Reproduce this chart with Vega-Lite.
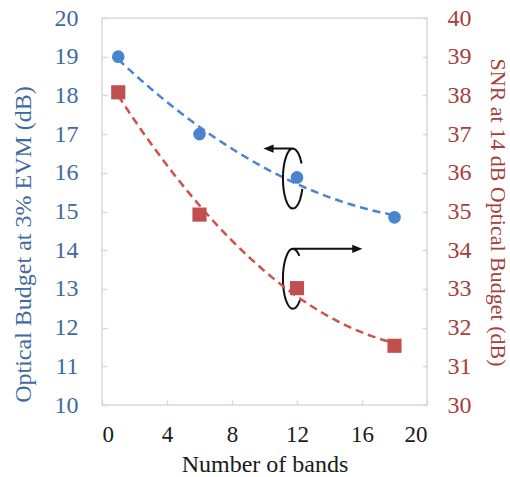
{
  "$schema": "https://vega.github.io/schema/vega-lite/v6.json",
  "width": 325,
  "height": 387,
  "autosize": {"type": "none"},
  "padding": {"left": 102, "top": 18, "right": 83, "bottom": 72},
  "background": "white",
  "config": {
    "font": "Liberation Serif",
    "view": {"stroke": "#d9d9d9", "strokeWidth": 1.5},
    "axis": {"grid": false, "domain": false, "tickColor": "#d9d9d9", "tickWidth": 1.5, "tickSize": -5, "labelFont": "Liberation Serif", "titleFont": "Liberation Serif", "titleFontWeight": "normal"}
  },
  "datasets": {
    "main": [
      {"bands": 1, "budget": 19.0, "snr": 38.08},
      {"bands": 6, "budget": 17.0, "snr": 34.92},
      {"bands": 12, "budget": 15.88, "snr": 33.02},
      {"bands": 18, "budget": 14.85, "snr": 31.53}
    ],
    "ann": [
      {"bands": 11.75, "budget": 15.85, "kind": "a1"},
      {"bands": 11.75, "budget": 13.26, "kind": "a2"}
    ]
  },
  "data": {"name": "main"},
  "encoding": {
    "x": {
      "field": "bands", "type": "quantitative",
      "scale": {"domain": [0, 20], "nice": false},
      "axis": {"values": [0, 4, 8, 12, 16, 20], "labelFontSize": 23, "labelColor": "#1a1a1a", "labelPadding": 23, "title": "Number of bands", "titleFontSize": 24, "titleColor": "#1a1a1a", "titleY": 59, "titleBaseline": "middle"}
    }
  },
  "layer": [
    {
      "encoding": {
        "y": {
          "field": "budget", "type": "quantitative",
          "scale": {"domain": [10, 20], "nice": false, "zero": false},
          "axis": {"orient": "left", "values": [10, 11, 12, 13, 14, 15, 16, 17, 18, 19, 20], "labelFontSize": 24, "labelColor": "#3F6A9E", "labelPadding": 29, "title": "Optical Budget at 3% EVM (dB)", "titleFontSize": 24, "titleColor": "#3F6A9E", "titleX": -79, "titleY": 226, "titleAngle": -90, "titleBaseline": "middle", "titleAlign": "center"}
        }
      },
      "layer": [
        {
          "transform": [{"regression": "budget", "on": "bands", "method": "poly", "order": 2, "extent": [1, 18]}],
          "mark": {"type": "line", "color": "#4A84CF", "strokeWidth": 2.5, "strokeDash": [8, 5]}
        },
        {
          "mark": {"type": "point", "shape": "circle", "filled": true, "size": 160, "color": "#4A84CF", "opacity": 1}
        },
        {
          "data": {"name": "ann"},
          "mark": {"type": "point", "filled": false, "size": 3600, "stroke": "#111111", "strokeWidth": 2, "opacity": 1},
          "encoding": {
            "shape": {
              "field": "kind", "type": "nominal", "legend": null,
              "scale": {
                "domain": ["a1", "a2"],
                "range": [
                  "M -0.9 -1 L 0 -1 M -0.9 -1 L -0.68 -1.09 L -0.68 -0.91 Z M 0.288 -0.5 L 0.236 -0.707 L 0.167 -0.866 L 0.086 -0.966 L 0 -1 C -0.184 -1 -0.333 -0.552 -0.333 0 C -0.333 0.552 -0.184 1 0 1 L 0.086 0.966 L 0.167 0.866 L 0.236 0.707 L 0.288 0.5 L 0.313 0.342",
                  "M 0 -1 L 2.23 -1 M 2.23 -1 L 2.01 -1.09 L 2.01 -0.91 Z M 0.214 -0.766 L 0.167 -0.866 L 0.086 -0.966 L 0 -1 C -0.184 -1 -0.333 -0.552 -0.333 0 C -0.333 0.552 -0.184 1 0 1 L 0.086 0.966 L 0.167 0.866 L 0.236 0.707"
                ]
              }
            }
          }
        }
      ]
    },
    {
      "encoding": {
        "y": {
          "field": "snr", "type": "quantitative",
          "scale": {"domain": [30, 40], "nice": false, "zero": false},
          "axis": {"orient": "right", "values": [30, 31, 32, 33, 34, 35, 36, 37, 38, 39, 40], "labelFontSize": 24, "labelColor": "#A53E3C", "labelPadding": 25, "title": "SNR at 14 dB Optical Budget (dB)", "titleFontSize": 22, "titleColor": "#A53E3C", "titleX": 70, "titleY": 194, "titleAngle": 90, "titleBaseline": "middle", "titleAlign": "center"}
        }
      },
      "layer": [
        {
          "transform": [{"regression": "snr", "on": "bands", "method": "poly", "order": 2, "extent": [1, 18]}],
          "mark": {"type": "line", "color": "#D0504A", "strokeWidth": 2.5, "strokeDash": [8, 5]}
        },
        {
          "mark": {"type": "point", "shape": "square", "filled": true, "size": 200, "color": "#C0504D", "opacity": 1}
        }
      ]
    }
  ],
  "resolve": {"scale": {"y": "independent"}}
}
